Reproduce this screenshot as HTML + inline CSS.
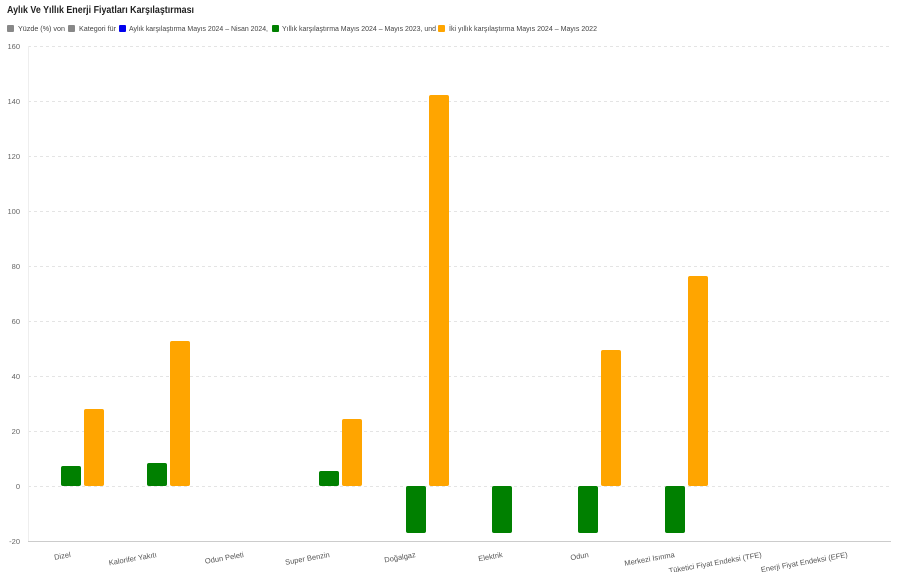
<!DOCTYPE html>
<html><head><meta charset="utf-8"><style>
body{margin:0;background:#fff;width:900px;height:572px;overflow:hidden;font-family:"Liberation Sans","DejaVu Sans",sans-serif}
</style></head><body>
<svg width="900" height="572" xmlns="http://www.w3.org/2000/svg" font-family="Liberation Sans, DejaVu Sans, sans-serif">
<text x="7" y="13" font-size="10" font-weight="bold" fill="#222" textLength="187" lengthAdjust="spacingAndGlyphs">Aylık Ve Yıllık Enerji Fiyatları Karşılaştırması</text>
<g font-size="7.5" fill="#444">
<rect x="7" y="25" width="7" height="7" rx="1" fill="#888"/><text x="18" y="31" textLength="47" lengthAdjust="spacingAndGlyphs">Yüzde (%) von</text>
<rect x="68" y="25" width="7" height="7" rx="1" fill="#888"/><text x="79" y="31" textLength="37" lengthAdjust="spacingAndGlyphs">Kategori für</text>
<rect x="119" y="25" width="7" height="7" rx="1" fill="#0000ee"/><text x="129" y="31" textLength="139" lengthAdjust="spacingAndGlyphs">Aylık karşılaştırma Mayıs 2024 – Nisan 2024,</text>
<rect x="272" y="25" width="7" height="7" rx="1" fill="#008000"/><text x="282" y="31" textLength="154" lengthAdjust="spacingAndGlyphs">Yıllık karşılaştırma Mayıs 2024 – Mayıs 2023, und</text>
<rect x="438" y="25" width="7" height="7" rx="1" fill="#ffa500"/><text x="449" y="31" textLength="148" lengthAdjust="spacingAndGlyphs">İki yıllık karşılaştırma Mayıs 2024 – Mayıs 2022</text>
</g>
<g stroke="#e4e4e4" stroke-dasharray="3,3" stroke-width="1">
<line x1="28" x2="891" y1="46.5" y2="46.5"/><line x1="28" x2="891" y1="101.5" y2="101.5"/>
<line x1="28" x2="891" y1="156.5" y2="156.5"/><line x1="28" x2="891" y1="211.5" y2="211.5"/>
<line x1="28" x2="891" y1="266.5" y2="266.5"/><line x1="28" x2="891" y1="321.5" y2="321.5"/>
<line x1="28" x2="891" y1="376.5" y2="376.5"/><line x1="28" x2="891" y1="431.5" y2="431.5"/>
<line x1="28" x2="891" y1="486.5" y2="486.5"/>
</g>
<line x1="28" x2="891" y1="541.5" y2="541.5" stroke="#ccc"/>
<line x1="28.5" x2="28.5" y1="46" y2="541" stroke="#eee"/>
<g font-size="7.5" fill="#666" text-anchor="end">
<text x="20" y="49">160</text><text x="20" y="104">140</text><text x="20" y="159">120</text>
<text x="20" y="214">100</text><text x="20" y="269">80</text><text x="20" y="324">60</text>
<text x="20" y="379">40</text><text x="20" y="434">20</text><text x="20" y="489">0</text>
<text x="20" y="544">-20</text>
</g>
<g fill="#008000">
<rect x="61" y="466" width="20" height="20" rx="2"/>
<rect x="147" y="463" width="20" height="23" rx="2"/>
<rect x="319" y="471" width="20" height="15" rx="2"/>
<rect x="406" y="486" width="20" height="47" rx="2"/>
<rect x="492" y="486" width="20" height="47" rx="2"/>
<rect x="578" y="486" width="20" height="47" rx="2"/>
<rect x="665" y="486" width="20" height="47" rx="2"/>
</g>
<g fill="#ffa500">
<rect x="84" y="409" width="20" height="77" rx="2"/>
<rect x="170" y="341" width="20" height="145" rx="2"/>
<rect x="342" y="419" width="20" height="67" rx="2"/>
<rect x="429" y="95" width="20" height="391" rx="2"/>
<rect x="601" y="350" width="20" height="136" rx="2"/>
<rect x="688" y="276" width="20" height="210" rx="2"/>
</g>
<g font-size="7.5" fill="#555" text-anchor="end">
<text transform="translate(71,557) rotate(-10)">Dizel</text>
<text transform="translate(157,557) rotate(-10)">Kalorifer Yakıtı</text>
<text transform="translate(244,557) rotate(-10)">Odun Peleti</text>
<text transform="translate(330,557) rotate(-10)">Super Benzin</text>
<text transform="translate(416,557) rotate(-10)">Doğalgaz</text>
<text transform="translate(503,557) rotate(-10)">Elektrik</text>
<text transform="translate(589,557) rotate(-10)">Odun</text>
<text transform="translate(675,557) rotate(-10)">Merkezi Isınma</text>
<text transform="translate(762,557) rotate(-10)">Tüketici Fiyat Endeksi (TFE)</text>
<text transform="translate(848,557) rotate(-10)">Enerji Fiyat Endeksi (EFE)</text>
</g>
</svg>
</body></html>
